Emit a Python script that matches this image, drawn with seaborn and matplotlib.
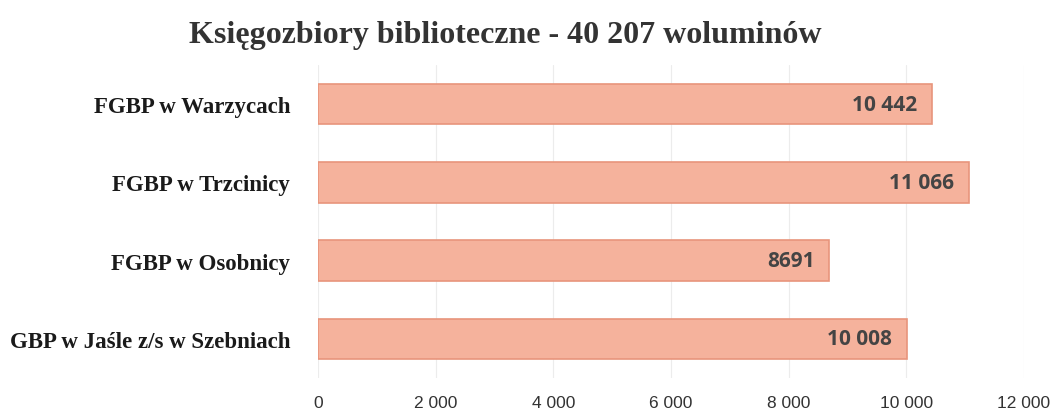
import matplotlib
matplotlib.use("Agg")
import matplotlib.pyplot as plt
import seaborn as sns
import pandas as pd

sns.set_theme(style="white")

# data
libraries = ["FGBP w Warzycach", "FGBP w Trzcinicy", "FGBP w Osobnicy", "GBP w Jaśle z/s w Szebniach"]
volumes = [10442, 11066, 8691, 10008]
value_labels = ["10 442", "11 066", "8691", "10 008"]
ticks = [0, 2000, 4000, 6000, 8000, 10000, 12000]
tick_labels = ["0", "2 000", "4 000", "6 000", "8 000", "10 000", "12 000"]

df = pd.DataFrame({"library": libraries, "volumes": volumes})

fig = plt.figure(figsize=(10.61, 4.14), dpi=100)
ax = fig.add_axes([0.2997, 0.0845, 0.6654, 0.7561])
sns.barplot(data=df, y="library", x="volumes", order=libraries, color="#f5b29c",
            edgecolor="#e8957c", linewidth=1.2, width=0.52, saturation=1, ax=ax)

ax.set_xlim(0, 12000)
ax.set_xticks(ticks)
ax.set_xticklabels(tick_labels, fontsize=12.5, color="#333333", family="Liberation Sans")
ax.tick_params(axis="x", pad=12, length=0)
ax.tick_params(axis="y", pad=20, length=0)
for lbl in ax.get_yticklabels():
    lbl.set_fontfamily("Liberation Serif")
    lbl.set_fontweight("bold")
    lbl.set_fontsize(16.5)
    lbl.set_color("#1a1a1a")
ax.set_xlabel("")
ax.set_ylabel("")
ax.grid(axis="x", color="#ececec", linewidth=0.8)
ax.set_axisbelow(True)
for s in ax.spines.values():
    s.set_visible(False)

for i, (v, t) in enumerate(zip(volumes, value_labels)):
    ax.text(v - 250, i, t, ha="right", va="center", fontsize=15, fontweight="bold",
            color="#444444", family="Open Sans")

fig.text(0.476, 0.915, "Księgozbiory biblioteczne - 40 207 woluminów", ha="center", va="center",
         fontsize=23, fontweight="bold", color="#333333", family="Liberation Serif")

fig.savefig("out.png", dpi=100)
